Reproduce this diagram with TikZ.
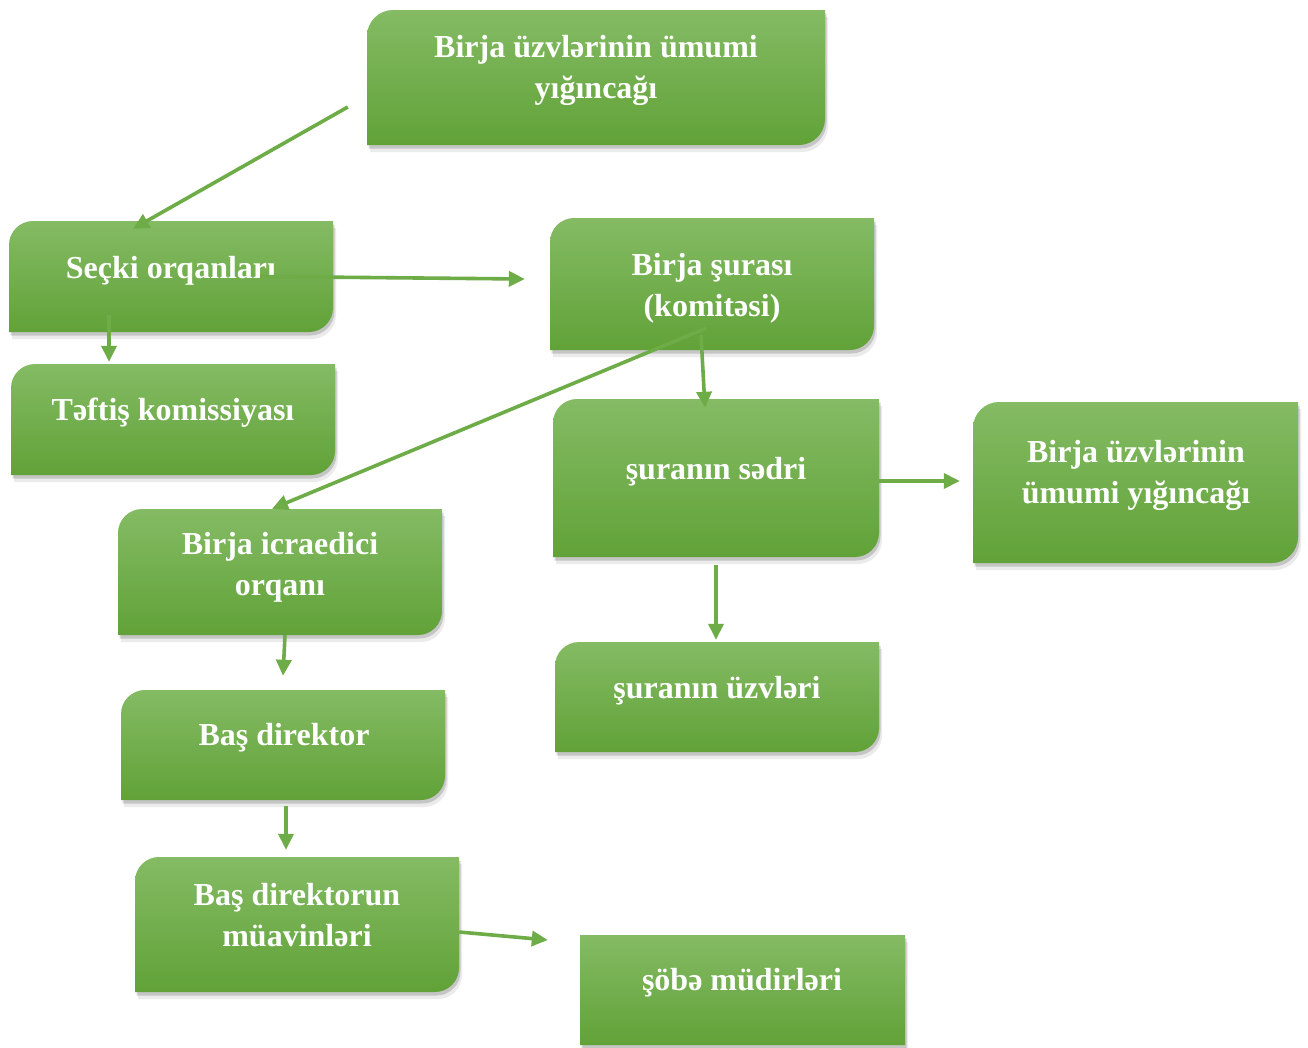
\documentclass[tikz,border=0pt]{standalone}
\usepackage{fontspec}
\setmainfont{Liberation Serif}
\usetikzlibrary{arrows.meta}
\definecolor{gtop}{HTML}{84BB64}
\definecolor{gbot}{HTML}{61A238}
\definecolor{lineg}{HTML}{6DAC46}
\tikzset{
  conn/.style={draw=lineg, line width=3.6pt, -{Triangle[length=16pt,width=15pt]}},
  txt/.style={text=white, font=\fontsize{32}{41}\selectfont\bfseries, align=center, inner sep=0pt},
  anchorbox/.style={inner sep=0pt, draw=none},
}
% #1 name, #2 x1, #3 y1, #4 x2, #5 y2, #6 corner radius
\newcommand\gbox[6]{%
  \begin{scope}[shift={(3,7)}]
    \fill[black,opacity=0.08] ({#2},{#5}) -- ({#2},{#3+#6}) .. controls ({#2},{#3+0.45*#6}) and ({#2+0.45*#6},{#3}) .. ({#2+#6},{#3}) -- ({#4},{#3}) -- ({#4},{#5-#6}) .. controls ({#4},{#5-0.45*#6}) and ({#4-0.45*#6},{#5}) .. ({#4-#6},{#5}) -- cycle;
  \end{scope}
  \begin{scope}[shift={(1.5,3.5)}]
    \fill[black,opacity=0.16] ({#2},{#5}) -- ({#2},{#3+#6}) .. controls ({#2},{#3+0.45*#6}) and ({#2+0.45*#6},{#3}) .. ({#2+#6},{#3}) -- ({#4},{#3}) -- ({#4},{#5-#6}) .. controls ({#4},{#5-0.45*#6}) and ({#4-0.45*#6},{#5}) .. ({#4-#6},{#5}) -- cycle;
  \end{scope}
  \shade[top color=gtop, bottom color=gbot] ({#2},{#5}) -- ({#2},{#3+#6}) .. controls ({#2},{#3+0.45*#6}) and ({#2+0.45*#6},{#3}) .. ({#2+#6},{#3}) -- ({#4},{#3}) -- ({#4},{#5-#6}) .. controls ({#4},{#5-0.45*#6}) and ({#4-0.45*#6},{#5}) .. ({#4-#6},{#5}) -- cycle;
  \node[anchorbox, minimum width={#4-#2}, minimum height={#5-#3}] (#1) at ({(#2+#4)/2},{(#3+#5)/2}) {};
}
\begin{document}
\begin{tikzpicture}[x=1pt, y=-1pt]
\useasboundingbox[fill=white] (0,0) rectangle (1308,1047);

\gbox{top}{367}{10}{825}{145}{26}
\gbox{secki}{9}{221}{333}{332}{24}
\gbox{teftis}{11}{364}{335}{475}{24}
\gbox{sura}{550}{218}{874}{350}{24}
\gbox{sedr}{553}{399}{879}{557}{24}
\gbox{umumi}{973}{402}{1298}{563}{26}
\gbox{icra}{118}{509}{442}{635}{24}
\gbox{bas}{121}{690}{445}{800}{24}
\gbox{muav}{135}{857}{459}{992}{24}
\gbox{uzv}{555}{642}{879}{752}{24}
\gbox{sobe}{580}{935}{905}{1045}{0}

\node[txt] (ttop) at (596,70) {Birja üzvlərinin ümumi\\yığıncağı};
\node[txt] (tsecki) at (171,271) {Seçki orqanları};
\node[txt] (tteftis) at (173,413) {Təftiş komissiyası};
\node[txt] (tsura) at (712,288) {Birja şurası\\(komitəsi)};
\node[txt] (tsedr) at (716,472) {şuranın sədri};
\node[txt] (tumumi) at (1136,475) {Birja üzvlərinin\\ümumi yığıncağı};
\node[txt] (ticra) at (280,567) {Birja icraedici\\orqanı};
\node[txt] (tbas) at (284,738) {Baş direktor};
\node[txt] (tmuav) at (297,915) {Baş direktorun\\müavinləri};
\node[txt] (tuzv) at (717,691) {şuranın üzvləri};
\node[txt] (tsobe) at (742,983) {şöbə müdirləri};

\draw[conn] ([shift={(-19,29.5)}]top.west) -- ([shift={(-38,8)}]secki.north);
\draw[conn] ([shift={(89,0)}]secki.center) -- ([shift={(-25,-5)}]sura.west);
\draw[conn] ([shift={(-62,-17)}]secki.south) -- ([shift={(-64,-2)}]teftis.north);
\draw[conn] ([shift={(-11,-15)}]sura.south) -- ([shift={(-11,9)}]sedr.north);
\draw[conn] ([shift={(-6,-22)}]sura.south) -- ([shift={(-8,0)}]icra.north);
\draw[conn] ([shift={(0,3)}]sedr.east) -- ([shift={(-13,-1.5)}]umumi.west);
\draw[conn] ([shift={(0,8)}]sedr.south) -- ([shift={(-1,-2)}]uzv.north);
\draw[conn] ([shift={(5,0)}]icra.south) -- ([shift={(0,-14)}]bas.north);
\draw[conn] ([shift={(3,6)}]bas.south) -- ([shift={(-11,-7)}]muav.north);
\draw[conn] ([shift={(0,7.5)}]muav.east) -- ([shift={(-32,-50)}]sobe.west);
\end{tikzpicture}
\end{document}
